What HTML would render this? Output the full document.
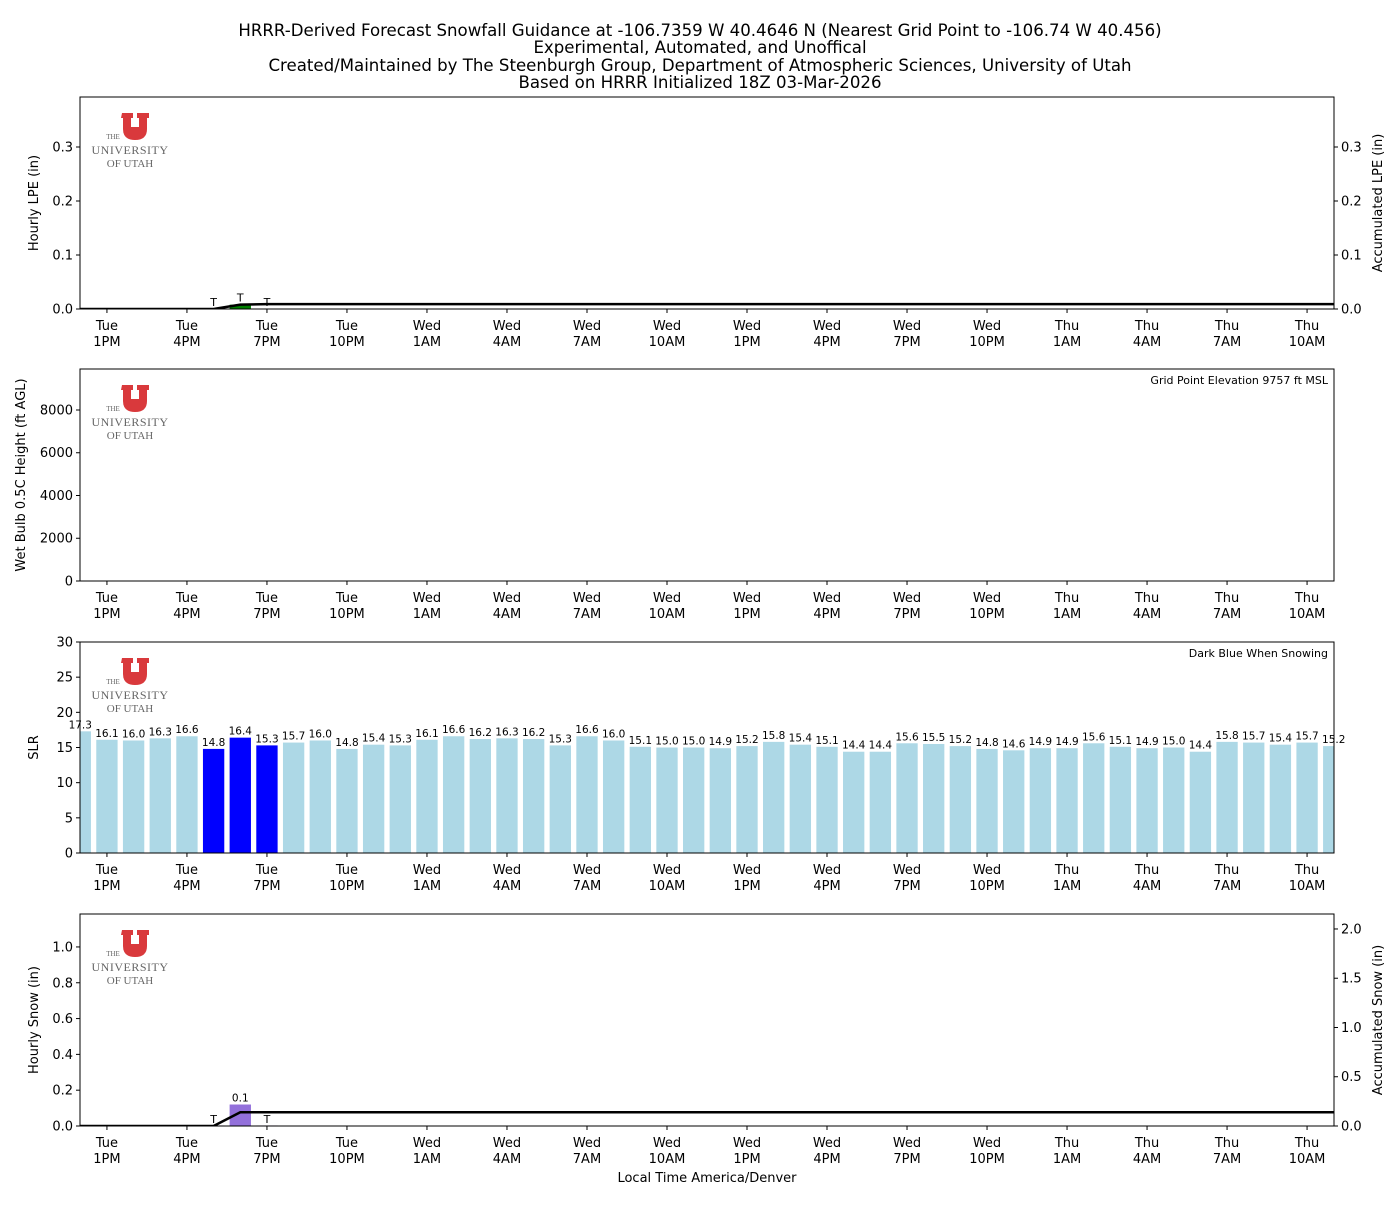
<!DOCTYPE html>
<html><head><meta charset="utf-8"><style>
body{margin:0;background:#fff;}
svg{font-family:"DejaVu Sans","Liberation Sans",sans-serif;}
</style></head><body>
<svg id="c" width="1400" height="1200" viewBox="0 0 1400 1200" xmlns="http://www.w3.org/2000/svg">
<g font-size="16.6" text-anchor="middle" fill="#000">
<text x="700" y="36">HRRR-Derived Forecast Snowfall Guidance at -106.7359 W 40.4646 N (Nearest Grid Point to -106.74 W 40.456)</text>
<text x="700" y="53">Experimental, Automated, and Unoffical</text>
<text x="700" y="71">Created/Maintained by The Steenburgh Group, Department of Atmospheric Sciences, University of Utah</text>
<text x="700" y="88">Based on HRRR Initialized 18Z 03-Mar-2026</text>
</g>
</svg>
<script>
const hours=[];for(let h=-1;h<=46;h++)hours.push(h);
const slr=[17.3,16.1,16.0,16.3,16.6,14.8,16.4,15.3,15.7,16.0,14.8,15.4,15.3,16.1,16.6,16.2,16.3,16.2,15.3,16.6,16.0,15.1,15.0,15.0,14.9,15.2,15.8,15.4,15.1,14.4,14.4,15.6,15.5,15.2,14.8,14.6,14.9,14.9,15.6,15.1,14.9,15.0,14.4,15.8,15.7,15.4,15.7,15.2];
const snowingHours=[4,5,6];
const lpeHourly=[0,0,0,0,0,0,0.008,0,0,0,0,0,0,0,0,0,0,0,0,0,0,0,0,0,0,0,0,0,0,0,0,0,0,0,0,0,0,0,0,0,0,0,0,0,0,0,0,0];
const lpeAccum=[0,0,0,0,0,0,0.008,0.009,0.009,0.009,0.009,0.009,0.009,0.009,0.009,0.009,0.009,0.009,0.009,0.009,0.009,0.009,0.009,0.009,0.009,0.009,0.009,0.009,0.009,0.009,0.009,0.009,0.009,0.009,0.009,0.009,0.009,0.009,0.009,0.009,0.009,0.009,0.009,0.009,0.009,0.009,0.009,0.009];
const traceHours=[4,5,6];
const snowHourly=[0,0,0,0,0,0.003,0.12,0.003,0,0,0,0,0,0,0,0,0,0,0,0,0,0,0,0,0,0,0,0,0,0,0,0,0,0,0,0,0,0,0,0,0,0,0,0,0,0,0,0];
const snowAccum=[0,0,0,0,0,0,0.14,0.14,0.14,0.14,0.14,0.14,0.14,0.14,0.14,0.14,0.14,0.14,0.14,0.14,0.14,0.14,0.14,0.14,0.14,0.14,0.14,0.14,0.14,0.14,0.14,0.14,0.14,0.14,0.14,0.14,0.14,0.14,0.14,0.14,0.14,0.14,0.14,0.14,0.14,0.14,0.14,0.14];
const snowTraceHours=[4,6];
const tickHours=[0,3,6,9,12,15,18,21,24,27,30,33,36,39,42,45];
const tickDays=["Tue","Tue","Tue","Tue","Wed","Wed","Wed","Wed","Wed","Wed","Wed","Wed","Thu","Thu","Thu","Thu"];
const tickTimes=["1PM","4PM","7PM","10PM","1AM","4AM","7AM","10AM","1PM","4PM","7PM","10PM","1AM","4AM","7AM","10AM"];

const S=document.getElementById('c'),NS="http://www.w3.org/2000/svg";
const X0=80,X1=1334,XMIN=-1.01,XMAX=46.01;
const xs=h=>X0+(h-XMIN)/(XMAX-XMIN)*(X1-X0);
function el(t,a,p){const e=document.createElementNS(NS,t);for(const k in a)e.setAttribute(k,a[k]);(p||S).appendChild(e);return e;}
function txt(s,a,p){const e=el('text',a,p);e.textContent=s;return e;}
function panel(name,top,bot,ymax,yticks,ylab,fmt,right){
 const g=el('g',{});
 const ys=v=>bot-v/ymax*(bot-top);
 const cp=el('clipPath',{id:'cp'+top},g);el('rect',{x:X0,y:top,width:X1-X0,height:bot-top},cp);
 const plot=el('g',{'clip-path':'url(#cp'+top+')'},g);
 const lg=el('g',{},g);
 el('path',{d:`M122 ${top+16}h11v5h-2v9h8v-9h-2v-5h12v5h-2v11q0 11-12 11q-12 0-12-11v-11h-2z`,fill:'#d9393c'},lg);
 txt('THE',{x:113,y:top+42,'font-size':7,fill:'#666','text-anchor':'middle','font-family':'Liberation Serif,serif'},lg);
 txt('UNIVERSITY',{x:130,y:top+57,'font-size':12,fill:'#666','text-anchor':'middle','font-family':'Liberation Serif,serif','letter-spacing':'0.5'},lg);
 txt('OF UTAH',{x:130,y:top+70,'font-size':11,fill:'#666','text-anchor':'middle','font-family':'Liberation Serif,serif'},lg);
 const ya=el('g',{},g);
 yticks.forEach(v=>{const y=ys(v);el('line',{x1:X0-4,x2:X0,y1:y,y2:y,stroke:'#000'},ya);txt(fmt(v),{x:X0-7,y:y+4.5,'font-size':13,'text-anchor':'end'},ya);});
 const yl=txt(ylab,{x:0,y:0,'font-size':13,'text-anchor':'middle',transform:`translate(${name==='wetbulb-panel'?25:38},${(top+bot)/2}) rotate(-90)`},g);
 
 if(right){const ra=el('g',{},g);
  const rs=v=>bot-v/right.max*(bot-top);
  right.ticks.forEach(v=>{const y=rs(v);el('line',{x1:X1,x2:X1+4,y1:y,y2:y,stroke:'#000'},ra);txt(right.fmt(v),{x:X1+7,y:y+4.5,'font-size':13},ra);});
  const rl=txt(right.label,{x:0,y:0,'font-size':13,'text-anchor':'middle',transform:`translate(${X1+48},${(top+bot)/2}) rotate(-90)`},ra);
  }
 const xa=el('g',{},g);
 tickHours.forEach((h,i)=>{const x=xs(h);el('line',{x1:x,x2:x,y1:bot,y2:bot+4,stroke:'#000'},xa);
  txt(tickDays[i],{x:x,y:bot+21,'font-size':13,'text-anchor':'middle'},xa);txt(tickTimes[i],{x:x,y:bot+37,'font-size':13,'text-anchor':'middle'},xa);});
 return {g,plot,ys,frame:()=>el('rect',{x:X0,y:top,width:X1-X0,height:bot-top,fill:'none',stroke:'#000','stroke-width':1},g)};
}
const bw=0.8*(xs(1)-xs(0));
let p=panel('lpe-panel',97,309,0.3926,[0,0.1,0.2,0.3],'Hourly LPE (in)',v=>v.toFixed(1),{max:0.3926,ticks:[0,0.1,0.2,0.3],fmt:v=>v.toFixed(1),label:'Accumulated LPE (in)'});
hours.forEach((h,i)=>{if(lpeHourly[i]>0){const b=el('rect',{x:xs(h)-bw/2,y:p.ys(lpeHourly[i]),width:bw,height:309-p.ys(lpeHourly[i]),fill:'#008000'},p.plot);}});
traceHours.forEach(h=>{const i=hours.indexOf(h);const t=txt('T',{x:xs(h),y:p.ys(lpeHourly[i])-3,'font-size':11,'text-anchor':'middle'},p.g);});
let l=el('polyline',{points:hours.map((h,i)=>xs(h)+','+p.ys(lpeAccum[i])).join(' '),fill:'none',stroke:'#000','stroke-width':2.5},p.plot);

p.frame();
p=panel('wetbulb-panel',369,581,9918,[0,2000,4000,6000,8000],'Wet Bulb 0.5C Height (ft AGL)',v=>String(v),null);
let n=txt('Grid Point Elevation 9757 ft MSL',{x:1328,y:384,'font-size':11,'text-anchor':'end'},p.g);
p.frame();
p=panel('slr-panel',642,853,30,[0,5,10,15,20,25,30],'SLR',v=>String(v),null);
hours.forEach((h,i)=>{const v=slr[i];const b=el('rect',{x:xs(h)-bw/2,y:p.ys(v),width:bw,height:853-p.ys(v),fill:snowingHours.includes(h)?'#0000ff':'#add8e6'},p.plot);
 
 const t=txt(v.toFixed(1),{x:xs(h),y:p.ys(v)-3,'font-size':10.5,'text-anchor':'middle'},p.g);});
n=txt('Dark Blue When Snowing',{x:1328,y:657,'font-size':11,'text-anchor':'end'},p.g);
p.frame();
p=panel('snow-panel',914,1126,1.184,[0,0.2,0.4,0.6,0.8,1.0],'Hourly Snow (in)',v=>v.toFixed(1),{max:2.152,ticks:[0,0.5,1.0,1.5,2.0],fmt:v=>v.toFixed(1),label:'Accumulated Snow (in)'});
hours.forEach((h,i)=>{const v=snowHourly[i];if(v>0){const b=el('rect',{x:xs(h)-bw/2,y:p.ys(v),width:bw,height:1126-p.ys(v),fill:'#9370db'},p.plot);
 if(v>=0.05){const t=txt(v.toFixed(1),{x:xs(h),y:p.ys(v)-3,'font-size':10.5,'text-anchor':'middle'},p.g);}}});
snowTraceHours.forEach(h=>{const t=txt('T',{x:xs(h),y:1123,'font-size':11,'text-anchor':'middle'},p.g);});
const rs=v=>1126-v/2.152*212;
l=el('polyline',{points:hours.map((h,i)=>xs(h)+','+rs(snowAccum[i])).join(' '),fill:'none',stroke:'#000','stroke-width':2.5},p.plot);

p.frame();
const xt=txt('Local Time America/Denver',{x:707,y:1182,'font-size':13,'text-anchor':'middle'});

</script>
</body></html>
